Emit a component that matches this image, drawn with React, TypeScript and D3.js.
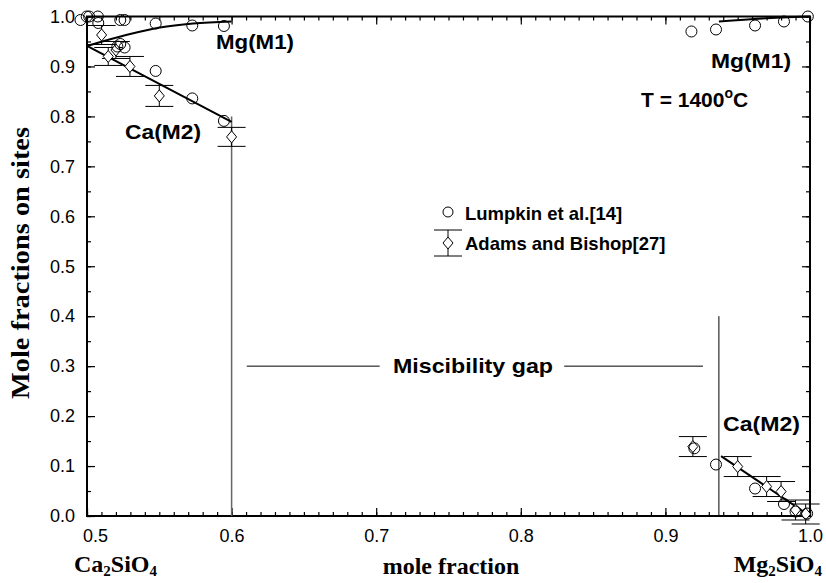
import React, { useEffect, useRef } from "react";
import * as d3 from "d3";

const W = 826;
const H = 583;

// Lumpkin et al.[14] - open circles
const lumpkinX = [0.4955, 0.4998, 0.5015, 0.5075, 0.5078, 0.523, 0.526, 0.5475, 0.5728, 0.5947,
  0.521, 0.523, 0.526, 0.5475, 0.5728, 0.5947,
  0.918, 0.935, 0.962, 0.982, 0.9985,
  0.920, 0.935, 0.962, 0.982, 0.990, 0.998];
const lumpkinY = [0.993, 1.0, 1.0, 1.0, 0.987, 0.993, 0.993, 0.986, 0.982, 0.981,
  0.940, 0.945, 0.938, 0.891, 0.836, 0.791,
  0.970, 0.974, 0.982, 0.990, 1.0,
  0.1355, 0.103, 0.055, 0.024, 0.009, 0.005];

// Adams and Bishop[27] - diamonds with error bars
const adamsX = [0.5101, 0.5147, 0.520, 0.5297, 0.55, 0.600,
  0.919, 0.950, 0.970, 0.980, 0.990, 0.997];
const adamsY = [0.963, 0.920, 0.933, 0.900, 0.841, 0.759,
  0.139, 0.099, 0.059, 0.049, 0.012, 0.004];
const adamsErr = [0.019, 0.018, 0.017, 0.02, 0.021, 0.019,
  0.02, 0.02, 0.02, 0.02, 0.02, 0.02];

// calculated site fractions (solid curves)
const mgLeftX = [0.5, 0.527, 0.5504, 0.5734, 0.6];
const mgLeftY = [0.941, 0.963, 0.978, 0.986, 0.990];
const caLeftX = [0.5, 0.55, 0.6];
const caLeftY = [0.941, 0.865, 0.789];
const mgRightX = [0.937, 0.967, 1.0];
const mgRightY = [0.990, 0.996, 1.0];
const caRightX = [0.9385, 1.0];
const caRightY = [0.120, 0.0];

// miscibility gap boundaries
const gapX = [0.6, 0.937];
const gapTop = [0.80, 0.40];
const gapLineY = 0.3;
const gapSegX = [[0.6105, 0.7024], [0.830, 0.926]];

const xTicks = [0.5, 0.6, 0.7, 0.8, 0.9, 1.0];
const yTicks = [0, 0.1, 0.2, 0.3, 0.4, 0.5, 0.6, 0.7, 0.8, 0.9, 1.0];

const sans = "'Liberation Sans', Arial, sans-serif";
const serif = "'Liberation Serif', 'Times New Roman', serif";

export default function App() {
  const ref = useRef<SVGSVGElement>(null);

  useEffect(() => {
    document.body.style.margin = "0";
    const svg = d3.select(ref.current);
    svg.selectAll("*").remove();

    const x = d3.scaleLinear().domain([0.5, 1.0]).range([87, 810]);
    const y = d3.scaleLinear().domain([0, 1]).range([516, 16.5]);

    const fmt = d3.format(".1f");

    const axis = (g: any, tickSel: any) => {
      g.call(tickSel);
      g.select(".domain").remove();
      g.selectAll("line").attr("stroke", "#000").attr("stroke-width", 1.2);
      g.selectAll("text").attr("font-family", sans).attr("font-size", 18).attr("fill", "#000");
    };

    // minor ticks
    svg.append("g").attr("transform", `translate(0,${y(0)})`)
      .call((g: any) => axis(g, d3.axisBottom(x).tickValues(x.ticks(50)).tickSize(-4).tickFormat(() => "")));
    svg.append("g").attr("transform", `translate(0,${y(1)})`)
      .call((g: any) => axis(g, d3.axisTop(x).tickValues(x.ticks(50)).tickSize(-4).tickFormat(() => "")));
    svg.append("g").attr("transform", `translate(${x(0.5)},0)`)
      .call((g: any) => axis(g, d3.axisLeft(y).tickValues(y.ticks(20)).tickSize(-4).tickFormat(() => "")));
    svg.append("g").attr("transform", `translate(${x(1)},0)`)
      .call((g: any) => axis(g, d3.axisRight(y).tickValues(y.ticks(20)).tickSize(-4).tickFormat(() => "")));

    // major ticks
    const bx = svg.append("g").attr("transform", `translate(0,${y(0)})`)
      .call((g: any) => axis(g, d3.axisBottom(x).tickValues(xTicks).tickSize(-8).tickPadding(13).tickFormat(fmt)));
    bx.select("text").attr("dx", 8);
    svg.append("g").attr("transform", `translate(0,${y(1)})`)
      .call((g: any) => axis(g, d3.axisTop(x).tickValues(xTicks).tickSize(-8).tickFormat(() => "")));
    svg.append("g").attr("transform", `translate(${x(0.5)},0)`)
      .call((g: any) => axis(g, d3.axisLeft(y).tickValues(yTicks).tickSize(-8).tickPadding(12).tickFormat(fmt)));
    svg.append("g").attr("transform", `translate(${x(1)},0)`)
      .call((g: any) => axis(g, d3.axisRight(y).tickValues(yTicks).tickSize(-8).tickFormat(() => "")));

    // frame
    svg.append("rect")
      .attr("x", x(0.5)).attr("y", y(1))
      .attr("width", x(1) - x(0.5)).attr("height", y(0) - y(1))
      .attr("fill", "none").attr("stroke", "#000").attr("stroke-width", 2);

    // miscibility gap
    svg.append("line")
      .attr("x1", x(gapX[0])).attr("x2", x(gapX[0]))
      .attr("y1", y(gapTop[0])).attr("y2", y(0))
      .attr("stroke", "#666").attr("stroke-width", 1.5);
    svg.append("line")
      .attr("x1", x(gapX[1])).attr("x2", x(gapX[1]))
      .attr("y1", y(gapTop[1])).attr("y2", y(0))
      .attr("stroke", "#000").attr("stroke-width", 1);
    svg.selectAll(".gapseg").data(gapSegX).enter().append("line")
      .attr("x1", (d: number[]) => x(d[0])).attr("x2", (d: number[]) => x(d[1]))
      .attr("y1", y(gapLineY)).attr("y2", y(gapLineY))
      .attr("stroke", "#000").attr("stroke-width", 1);

    // model curves
    const line = d3.line<number[]>()
      .x(d => x(d[0])).y(d => y(d[1]))
      .curve(d3.curveMonotoneX);
    const curves = [
      d3.zip(mgLeftX, mgLeftY),
      d3.zip(caLeftX, caLeftY),
      d3.zip(mgRightX, mgRightY),
      d3.zip(caRightX, caRightY),
    ];
    svg.selectAll(".curve").data(curves).enter().append("path")
      .attr("d", (d: any) => line(d))
      .attr("fill", "none").attr("stroke", "#000").attr("stroke-width", 2);

    // Adams and Bishop error bars
    const adams = adamsX.map((v, i) => ({ x: v, y: adamsY[i], e: adamsErr[i] }));
    const eb = svg.append("g").attr("stroke", "#000").attr("stroke-width", 1);
    adams.forEach(d => {
      const cx = x(d.x);
      eb.append("line").attr("x1", cx).attr("x2", cx).attr("y1", y(d.y + d.e)).attr("y2", y(d.y - d.e));
      eb.append("line").attr("x1", cx - 14).attr("x2", cx + 14).attr("y1", y(d.y + d.e)).attr("y2", y(d.y + d.e));
      eb.append("line").attr("x1", cx - 14).attr("x2", cx + 14).attr("y1", y(d.y - d.e)).attr("y2", y(d.y - d.e));
    });
    const diamond = "M0,-6L5,0L0,6L-5,0Z";
    svg.append("g").selectAll("path").data(adams).enter().append("path")
      .attr("d", diamond)
      .attr("transform", (d: any) => `translate(${x(d.x)},${y(d.y)})`)
      .attr("fill", "#fff").attr("stroke", "#000").attr("stroke-width", 1);

    // Lumpkin circles
    svg.append("g").selectAll("circle").data(d3.zip(lumpkinX, lumpkinY)).enter().append("circle")
      .attr("cx", (d: number[]) => x(d[0])).attr("cy", (d: number[]) => y(d[1])).attr("r", 5.5)
      .attr("fill", "none").attr("stroke", "#000").attr("stroke-width", 1);

    // labels in the plot
    const lab = (tx: number, ty: number, s: string, size: number, anchor = "start", len = 0) => {
      const t = svg.append("text").attr("x", tx).attr("y", ty).text(s)
        .attr("font-family", sans).attr("font-weight", "bold").attr("font-size", size)
        .attr("text-anchor", anchor).attr("fill", "#000");
      if (len) t.attr("textLength", len).attr("lengthAdjust", "spacingAndGlyphs");
      return t;
    };

    lab(216, 49, "Mg(M1)", 21, "start", 78);
    lab(791, 68, "Mg(M1)", 21, "end", 80);
    lab(125, 139, "Ca(M2)", 21, "start", 76);
    lab(723, 431, "Ca(M2)", 21, "start", 77);
    lab(393, 373, "Miscibility gap", 21, "start", 160);

    const t = lab(641, 107, "T = 1400", 21);
    t.append("tspan").attr("dy", -9).attr("font-size", 14).text("o");
    t.append("tspan").attr("dy", 9).text("C");

    // legend
    svg.append("circle").attr("cx", 448).attr("cy", 212).attr("r", 5)
      .attr("fill", "none").attr("stroke", "#000");
    lab(465, 220, "Lumpkin et al.[14]", 18.5);
    const lg = svg.append("g").attr("stroke", "#000").attr("stroke-width", 1);
    lg.append("line").attr("x1", 448).attr("x2", 448).attr("y1", 230).attr("y2", 256);
    lg.append("line").attr("x1", 434).attr("x2", 462).attr("y1", 230).attr("y2", 230);
    lg.append("line").attr("x1", 434).attr("x2", 462).attr("y1", 256).attr("y2", 256);
    lg.append("path").attr("d", diamond).attr("transform", "translate(448,243)").attr("fill", "#fff");
    lab(465, 250, "Adams and Bishop[27]", 18.5);

    // axis titles
    const ttl = (tx: number, ty: number, anchor: string) =>
      svg.append("text").attr("x", tx).attr("y", ty)
        .attr("font-family", serif).attr("font-weight", "bold").attr("font-size", 24)
        .attr("text-anchor", anchor).attr("fill", "#000");

    ttl(451, 574, "middle").text("mole fraction");
    const ca = ttl(74, 572, "start");
    ca.append("tspan").text("Ca");
    ca.append("tspan").attr("dy", 4).attr("font-size", 15).text("2");
    ca.append("tspan").attr("dy", -4).text("SiO");
    ca.append("tspan").attr("dy", 4).attr("font-size", 15).text("4");
    const mg = ttl(822, 572, "end");
    mg.append("tspan").text("Mg");
    mg.append("tspan").attr("dy", 4).attr("font-size", 15).text("2");
    mg.append("tspan").attr("dy", -4).text("SiO");
    mg.append("tspan").attr("dy", 4).attr("font-size", 15).text("4");

    svg.append("text")
      .attr("transform", "translate(29,263) rotate(-90)")
      .attr("text-anchor", "middle")
      .attr("font-family", serif).attr("font-weight", "bold").attr("font-size", 26)
      .attr("textLength", 272).attr("lengthAdjust", "spacingAndGlyphs")
      .attr("fill", "#000")
      .text("Mole fractions on sites");
  }, []);

  return <svg ref={ref} width={W} height={H} style={{ display: "block", background: "#fff" }} />;
}
